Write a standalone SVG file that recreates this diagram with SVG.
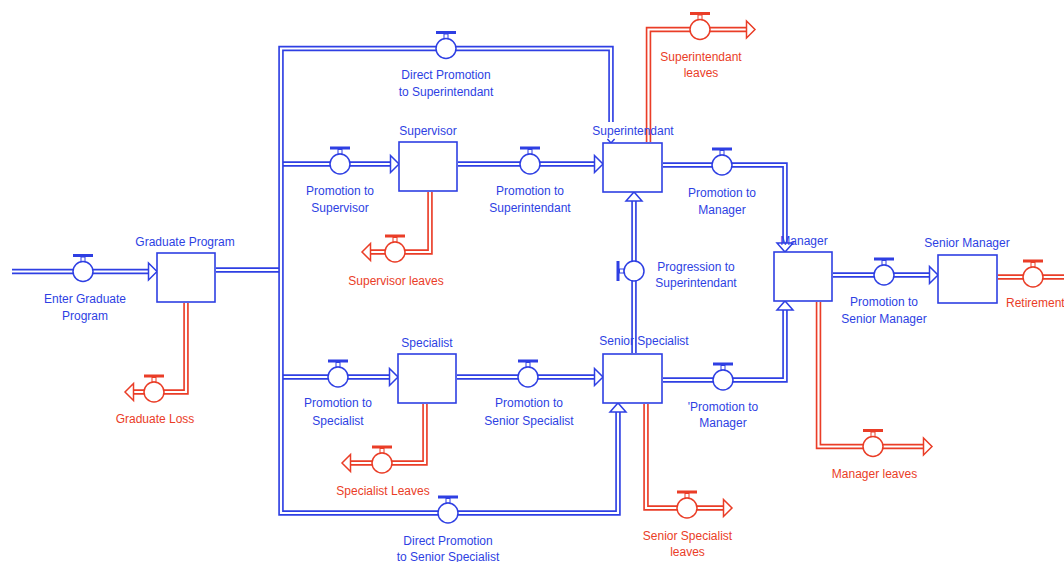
<svg xmlns="http://www.w3.org/2000/svg" width="1064" height="562" viewBox="0 0 1064 562">
<style>
.b{stroke:#2e3fe3}
.r{stroke:#ea3d27}
.po{fill:none;stroke-width:5.5;stroke-linejoin:miter}
.pi{fill:none;stroke:#fff;stroke-width:2.2;stroke-linejoin:miter}
.stock{fill:#fff;stroke:#2e3fe3;stroke-width:1.6}
.ah{fill:#fff;stroke-width:1.5;stroke-linejoin:miter}
text{font-family:"Liberation Sans",Arial,sans-serif;font-size:12px;text-anchor:middle}
.tb{fill:#2e3fe3}
.tr{fill:#ea3d27}
</style>
<defs>
<g id="vb">
<rect x="-10" y="-17.5" width="20" height="3" fill="#2e3fe3"/>
<rect x="-2" y="-14.5" width="4" height="4.5" fill="#fff" stroke="#2e3fe3" stroke-width="1"/>
<circle r="10" fill="#fff" stroke="#2e3fe3" stroke-width="1.5"/>
</g>
<g id="vr">
<rect x="-10" y="-17.5" width="20" height="3" fill="#ea3d27"/>
<rect x="-2" y="-14.5" width="4" height="4.5" fill="#fff" stroke="#ea3d27" stroke-width="1"/>
<circle r="10" fill="#fff" stroke="#ea3d27" stroke-width="1.5"/>
</g>
</defs>
<rect width="1064" height="562" fill="#fff"/>

<g id="connectors">
<g class="b">
<path class="po" d="M12,271.5 H148.5"/>
<path class="po" d="M216,270 H281"/>
<path class="po" d="M281,164 H390.5"/>
<path class="po" d="M458,164 H594.5"/>
<path class="po" d="M281,377 H389.5"/>
<path class="po" d="M457,377 H594.5"/>
<path class="po" d="M634,353 V201"/>
<path class="po" d="M663,165 H785 V243"/>
<path class="po" d="M663,380 H785 V310"/>
<path class="po" d="M833,275 H929.5"/>
</g>
<g>
<path class="pi" d="M12,271.5 H148.5"/>
<path class="pi" d="M216,270 H281"/>
<path class="pi" d="M281,164 H390.5"/>
<path class="pi" d="M458,164 H594.5"/>
<path class="pi" d="M281,377 H389.5"/>
<path class="pi" d="M457,377 H594.5"/>
<path class="pi" d="M634,353 V201"/>
<path class="pi" d="M663,165 H785 V243"/>
<path class="pi" d="M663,380 H785 V310"/>
<path class="pi" d="M833,275 H929.5"/>
</g>
<path class="po b" d="M611,122 V48.5 H281 V513 H618 V412"/>
<path class="pi" d="M611,122 V48.5 H281 V513 H618 V412"/>
<g class="r">
<path class="po" d="M186,303 V392 H133.5"/>
<path class="po" d="M430,192 V252 H370.5"/>
<path class="po" d="M648.5,142 V29.5 H746.5"/>
<path class="po" d="M425,404 V463 H350.5"/>
<path class="po" d="M646,404 V508 H723.5"/>
<path class="po" d="M818.5,302 V446.5 H923.5"/>
<path class="po" d="M998,277 H1064"/>
</g>
<g>
<path class="pi" d="M186,303 V392 H133.5"/>
<path class="pi" d="M430,192 V252 H370.5"/>
<path class="pi" d="M648.5,142 V29.5 H746.5"/>
<path class="pi" d="M425,404 V463 H350.5"/>
<path class="pi" d="M646,404 V508 H723.5"/>
<path class="pi" d="M818.5,302 V446.5 H923.5"/>
<path class="pi" d="M998,277 H1064"/>
</g>
<g class="b">
<polygon class="ah" points="148.5,263 157,271.5 148.5,280"/>
<polygon class="ah" points="390.5,155.5 399,164 390.5,172.5"/>
<polygon class="ah" points="594.5,155.5 603,164 594.5,172.5"/>
<polygon class="ah" points="389.5,368.5 398,377 389.5,385.5"/>
<polygon class="ah" points="594.5,368.5 603,377 594.5,385.5"/>
<polygon class="ah" points="610,412 618,403 626,412"/>
<polygon class="ah" points="626,201 634,192 642,201"/>
<polygon class="ah" points="777,243 785,252 793,243"/>
<polygon class="ah" points="777,310 785,301 793,310"/>
<polygon class="ah" points="929.5,266.5 938,275 929.5,283.5"/>
<polyline class="ah" points="607.4,139 611,143 614.6,139"/>
</g>
<g class="r">
<polygon class="ah" points="133.5,383.5 125,392 133.5,400.5"/>
<polygon class="ah" points="370.5,243.5 362,252 370.5,260.5"/>
<polygon class="ah" points="746.5,21 755,29.5 746.5,38"/>
<polygon class="ah" points="350.5,454.5 342,463 350.5,471.5"/>
<polygon class="ah" points="723.5,499.5 732,508 723.5,516.5"/>
<polygon class="ah" points="923.5,438 932,446.5 923.5,455"/>
</g>
</g>

<g id="graduate-program"><rect class="stock" x="157" y="253" width="58" height="49"/><text class="tb" x="185" y="246">Graduate Program</text></g>
<g id="supervisor"><rect class="stock" x="399" y="142" width="58" height="49"/><text class="tb" x="428" y="134.5">Supervisor</text></g>
<g id="superintendant"><rect class="stock" x="603" y="143" width="59" height="49"/><text class="tb" x="633" y="135">Superintendant</text></g>
<g id="specialist"><rect class="stock" x="398" y="354" width="58" height="49"/><text class="tb" x="427" y="347">Specialist</text></g>
<g id="senior-specialist"><rect class="stock" x="603" y="354" width="59" height="49"/><text class="tb" x="644" y="345">Senior Specialist</text></g>
<g id="manager"><rect class="stock" x="774" y="252" width="58" height="49"/><text class="tb" x="804" y="244.5">Manager</text></g>
<g id="senior-manager"><rect class="stock" x="938" y="255" width="59" height="48"/><text class="tb" x="967" y="247">Senior Manager</text></g>

<g id="enter-graduate-program"><use href="#vb" x="83" y="271.5"/><text class="tb" x="85" y="303">Enter Graduate</text><text class="tb" x="85" y="319.5">Program</text></g>
<g id="direct-promotion-to-superintendant"><use href="#vb" x="446" y="48.5"/><text class="tb" x="446" y="79">Direct Promotion</text><text class="tb" x="446" y="96">to Superintendant</text></g>
<g id="promotion-to-supervisor"><use href="#vb" x="340" y="164"/><text class="tb" x="340" y="195">Promotion to</text><text class="tb" x="340" y="212">Supervisor</text></g>
<g id="promotion-to-superintendant"><use href="#vb" x="530" y="164"/><text class="tb" x="530" y="195">Promotion to</text><text class="tb" x="530" y="212">Superintendant</text></g>
<g id="promotion-to-manager"><use href="#vb" x="722" y="165"/><text class="tb" x="722" y="197">Promotion to</text><text class="tb" x="722" y="214">Manager</text></g>
<g id="progression-to-superintendant"><use href="#vb" transform="translate(634,271) rotate(-90)"/><text class="tb" x="696" y="270.5">Progression to</text><text class="tb" x="696" y="287">Superintendant</text></g>
<g id="promotion-to-specialist"><use href="#vb" x="338" y="377"/><text class="tb" x="338" y="407">Promotion to</text><text class="tb" x="338" y="424.5">Specialist</text></g>
<g id="promotion-to-senior-specialist"><use href="#vb" x="528" y="377"/><text class="tb" x="529" y="407">Promotion to</text><text class="tb" x="529" y="424.5">Senior Specialist</text></g>
<g id="direct-promotion-to-senior-specialist"><use href="#vb" x="448" y="513"/><text class="tb" x="448" y="545">Direct Promotion</text><text class="tb" x="448" y="561">to Senior Specialist</text></g>
<g id="promotion-to-manager-2"><use href="#vb" x="723" y="380"/><text class="tb" x="723" y="410.5">'Promotion to</text><text class="tb" x="723" y="427">Manager</text></g>
<g id="promotion-to-senior-manager"><use href="#vb" x="884" y="275"/><text class="tb" x="884" y="306">Promotion to</text><text class="tb" x="884" y="323">Senior Manager</text></g>

<g id="graduate-loss"><use href="#vr" x="154" y="392"/><text class="tr" x="155" y="423">Graduate Loss</text></g>
<g id="supervisor-leaves"><use href="#vr" x="395" y="252"/><text class="tr" x="396" y="285">Supervisor leaves</text></g>
<g id="superintendant-leaves"><use href="#vr" x="700" y="29.5"/><text class="tr" x="701" y="61">Superintendant</text><text class="tr" x="701" y="77">leaves</text></g>
<g id="specialist-leaves"><use href="#vr" x="382" y="463"/><text class="tr" x="383" y="494.5">Specialist Leaves</text></g>
<g id="senior-specialist-leaves"><use href="#vr" x="687" y="508"/><text class="tr" x="687.5" y="539.5">Senior Specialist</text><text class="tr" x="687.5" y="556">leaves</text></g>
<g id="manager-leaves"><use href="#vr" x="873" y="446.5"/><text class="tr" x="874.5" y="478">Manager leaves</text></g>
<g id="retirement"><use href="#vr" x="1033" y="277"/><text class="tr" x="1006" y="306.5" style="text-anchor:start">Retirement</text></g>
</svg>
